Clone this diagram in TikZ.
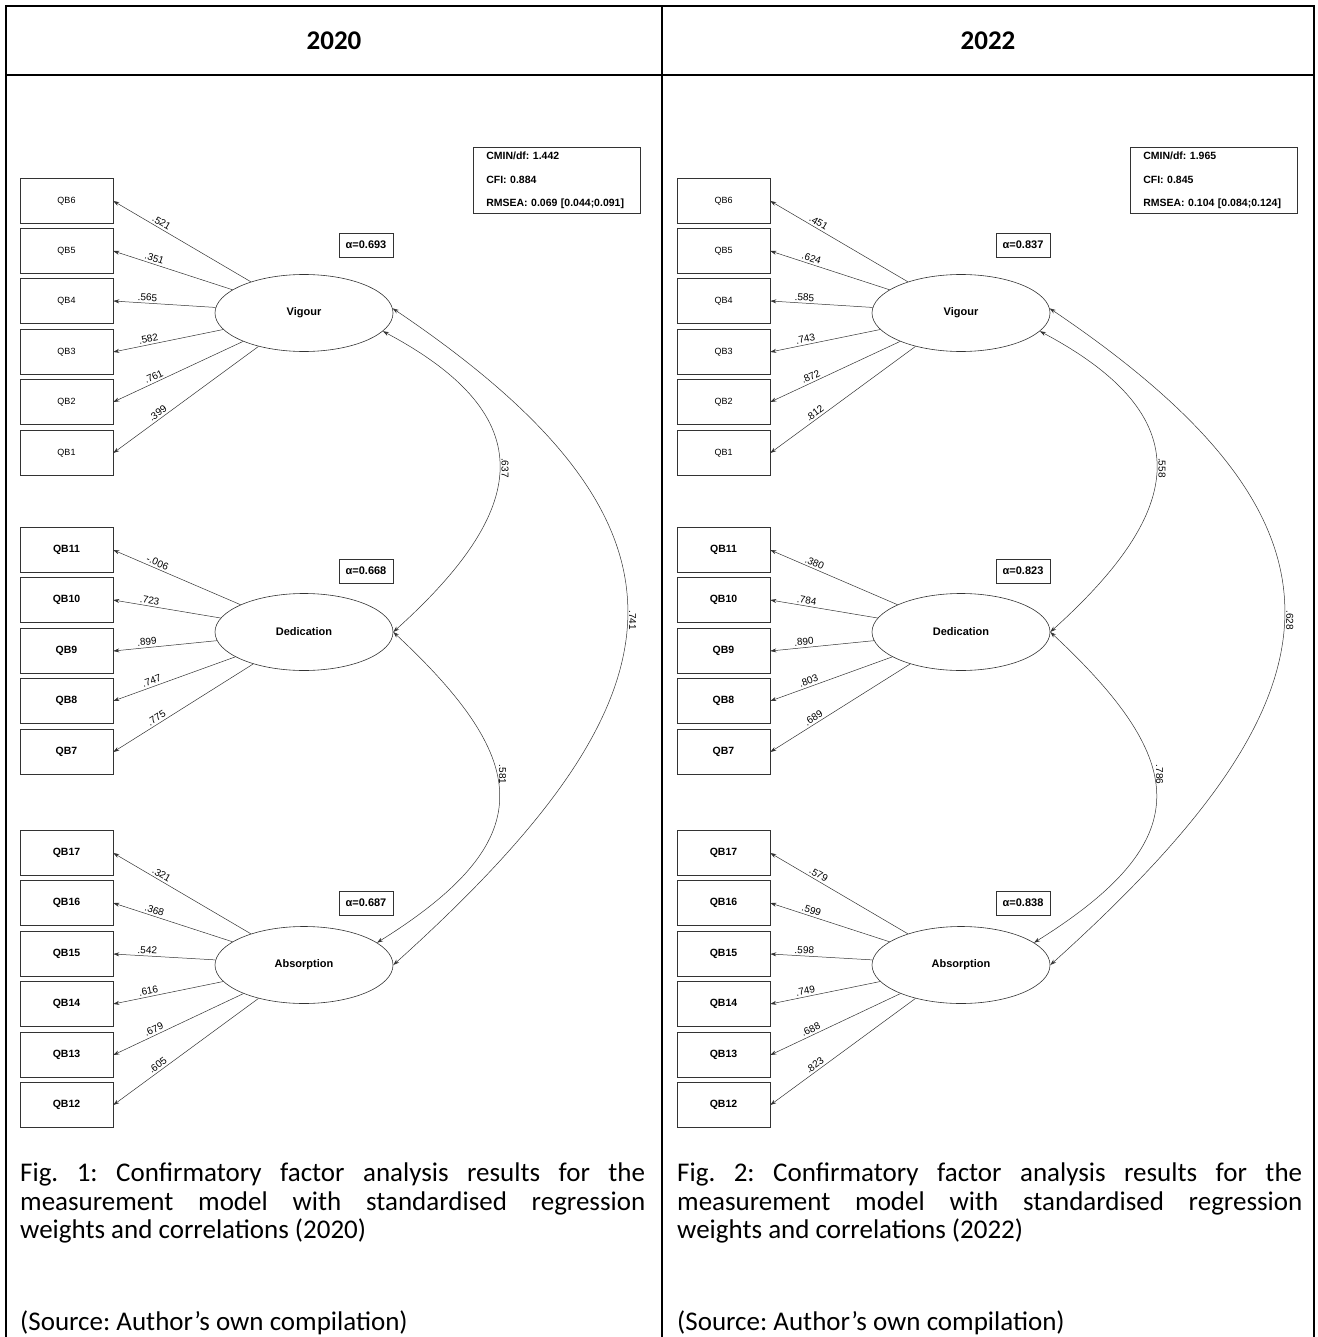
\documentclass[tikz,border=0pt]{standalone}
\usepackage{fontspec}
\setmainfont{Liberation Sans}
\newfontfamily\calibri{Carlito}
\usetikzlibrary{arrows.meta,shapes.geometric}
\tikzset{>={Stealth[length=6pt,width=4pt]}}
\tikzset{
  item/.style={draw=black!80, line width=0.6pt, minimum width=93pt, minimum height=45pt, inner sep=0pt, font=\fontsize{9}{9}\selectfont},
  itembf/.style={item, font=\bfseries\fontsize{10.5}{10.5}\selectfont},
  factor/.style={draw=black!80, line width=0.6pt, ellipse, minimum width=178pt, minimum height=77pt, inner sep=0pt, font=\bfseries\fontsize{11}{11}\selectfont},
  alphabox/.style={draw=black!80, line width=0.6pt, minimum width=54pt, minimum height=24pt, inner sep=0pt, font=\bfseries\fontsize{11}{11}\selectfont},
  stats/.style={draw=black!80, line width=0.6pt, anchor=north west, minimum width=167pt, minimum height=66pt, text width=141pt, inner xsep=13pt, inner ysep=0pt, align=left, font=\bfseries\fontsize{10.5}{23.5}\selectfont\frenchspacing},
  load/.style={<-, draw=black!80, line width=0.5pt},
  wt/.style={pos=0.33, sloped, above, inner sep=2pt, font=\fontsize{10}{10}\selectfont},
  cor/.style={<->, draw=black!80, line width=0.5pt},
  corlab/.style={pos=0.5, anchor=south, rotate=-90, inner sep=2pt, font=\fontsize{10}{10}\selectfont},
  head/.style={font=\calibri\bfseries\fontsize{27}{27}\selectfont},
  caption/.style={anchor=north west, inner sep=0pt, text width=625pt, align=justify, font=\calibri\fontsize{27}{28.5}\selectfont\hyphenpenalty 10000\frenchspacing}
}

\begin{document}
\begin{tikzpicture}[x=1pt,y=1pt]
\useasboundingbox (0,0) rectangle (1317,-1337);
% table frame
\draw[line width=2pt] (6,-1337) -- (6,-6) -- (1314,-6) -- (1314,-1337);
\draw[line width=2pt] (6,-75) -- (1314,-75);
\draw[line width=2pt] (662,-6) -- (662,-1337);
\node[head] (h20) at (334,-41) {2020};
\node[head] (h22) at (988,-41) {2022};

% 2020
\begin{scope}
\node[factor] (vig) at (304,-313) {Vigour};
\node[factor] (ded) at (304,-632) {Dedication};
\node[factor] (abs) at (304,-965) {Absorption};
\node[alphabox] (av) at (366,-245) {α=0.693};
\node[alphabox] (ad) at (366,-571) {α=0.668};
\node[alphabox] (aa) at (366,-903) {α=0.687};
\node[stats] (fit) at (473,-147) {CMIN/df: 1.442\\CFI: 0.884\\RMSEA: 0.069 [0.044;0.091]};
\foreach \n/\y/\w in {6/201/.521, 5/251/.351, 4/301/.565, 3/352/.582, 2/402/.761, 1/453/.399}{
  \node[item] (q\n) at (66.5,-\y) {QB\n};
  \draw[load] (q\n.east) -- node[wt] {\w} (vig);
}
\foreach \n/\y/\w in {11/550/-.006, 10/600/.723, 9/651/.899, 8/701/.747, 7/752/.775}{
  \node[itembf] (q\n) at (66.5,-\y) {QB\n};
  \draw[load] (q\n.east) -- node[wt] {\w} (ded);
}
\foreach \n/\y/\w in {17/853/.321, 16/903/.368, 15/954/.542, 14/1004/.616, 13/1055/.679, 12/1105/.605}{
  \node[itembf] (q\n) at (66.5,-\y) {QB\n};
  \draw[load] (q\n.east) -- node[wt] {\w} (abs);
}
\draw[cor] (vig.-13) to[out=-28, in=42, looseness=1.55] node[corlab] {.637} (ded.east);
\draw[cor] (ded.east) to[out=-43, in=32, looseness=1.58] node[corlab, pos=0.42] {.581} (abs.17);
\draw[cor] (vig.3) to[out=-34, in=42, looseness=1.55] node[corlab] {.741} (abs.east);
\node[caption] (cap20) at (20,-1163) {Fig. 1: Confirmatory factor analysis results for the measurement model with standardised regression weights and correlations (2020)\\[63pt](Source: Author’s own compilation)};
\end{scope}

% 2022
\begin{scope}[xshift=657pt, name prefix=r]
\node[factor] (vig) at (304,-313) {Vigour};
\node[factor] (ded) at (304,-632) {Dedication};
\node[factor] (abs) at (304,-965) {Absorption};
\node[alphabox] (av) at (366,-245) {α=0.837};
\node[alphabox] (ad) at (366,-571) {α=0.823};
\node[alphabox] (aa) at (366,-903) {α=0.838};
\node[stats] (fit) at (473,-147) {CMIN/df: 1.965\\CFI: 0.845\\RMSEA: 0.104 [0.084;0.124]};
\foreach \n/\y/\w in {6/201/.451, 5/251/.624, 4/301/.585, 3/352/.743, 2/402/.872, 1/453/.812}{
  \node[item] (q\n) at (66.5,-\y) {QB\n};
  \draw[load] (q\n.east) -- node[wt] {\w} (vig);
}
\foreach \n/\y/\w in {11/550/.380, 10/600/.784, 9/651/.890, 8/701/.803, 7/752/.689}{
  \node[itembf] (q\n) at (66.5,-\y) {QB\n};
  \draw[load] (q\n.east) -- node[wt] {\w} (ded);
}
\foreach \n/\y/\w in {17/853/.579, 16/903/.599, 15/954/.598, 14/1004/.749, 13/1055/.688, 12/1105/.823}{
  \node[itembf] (q\n) at (66.5,-\y) {QB\n};
  \draw[load] (q\n.east) -- node[wt] {\w} (abs);
}
\draw[cor] (vig.-13) to[out=-28, in=42, looseness=1.55] node[corlab] {.558} (ded.east);
\draw[cor] (ded.east) to[out=-43, in=32, looseness=1.58] node[corlab, pos=0.42] {.786} (abs.17);
\draw[cor] (vig.3) to[out=-34, in=42, looseness=1.55] node[corlab] {.628} (abs.east);
\node[caption] (cap22) at (20,-1163) {Fig. 2: Confirmatory factor analysis results for the measurement model with standardised regression weights and correlations (2022)\\[63pt](Source: Author’s own compilation)};
\end{scope}
\end{tikzpicture}
\end{document}
